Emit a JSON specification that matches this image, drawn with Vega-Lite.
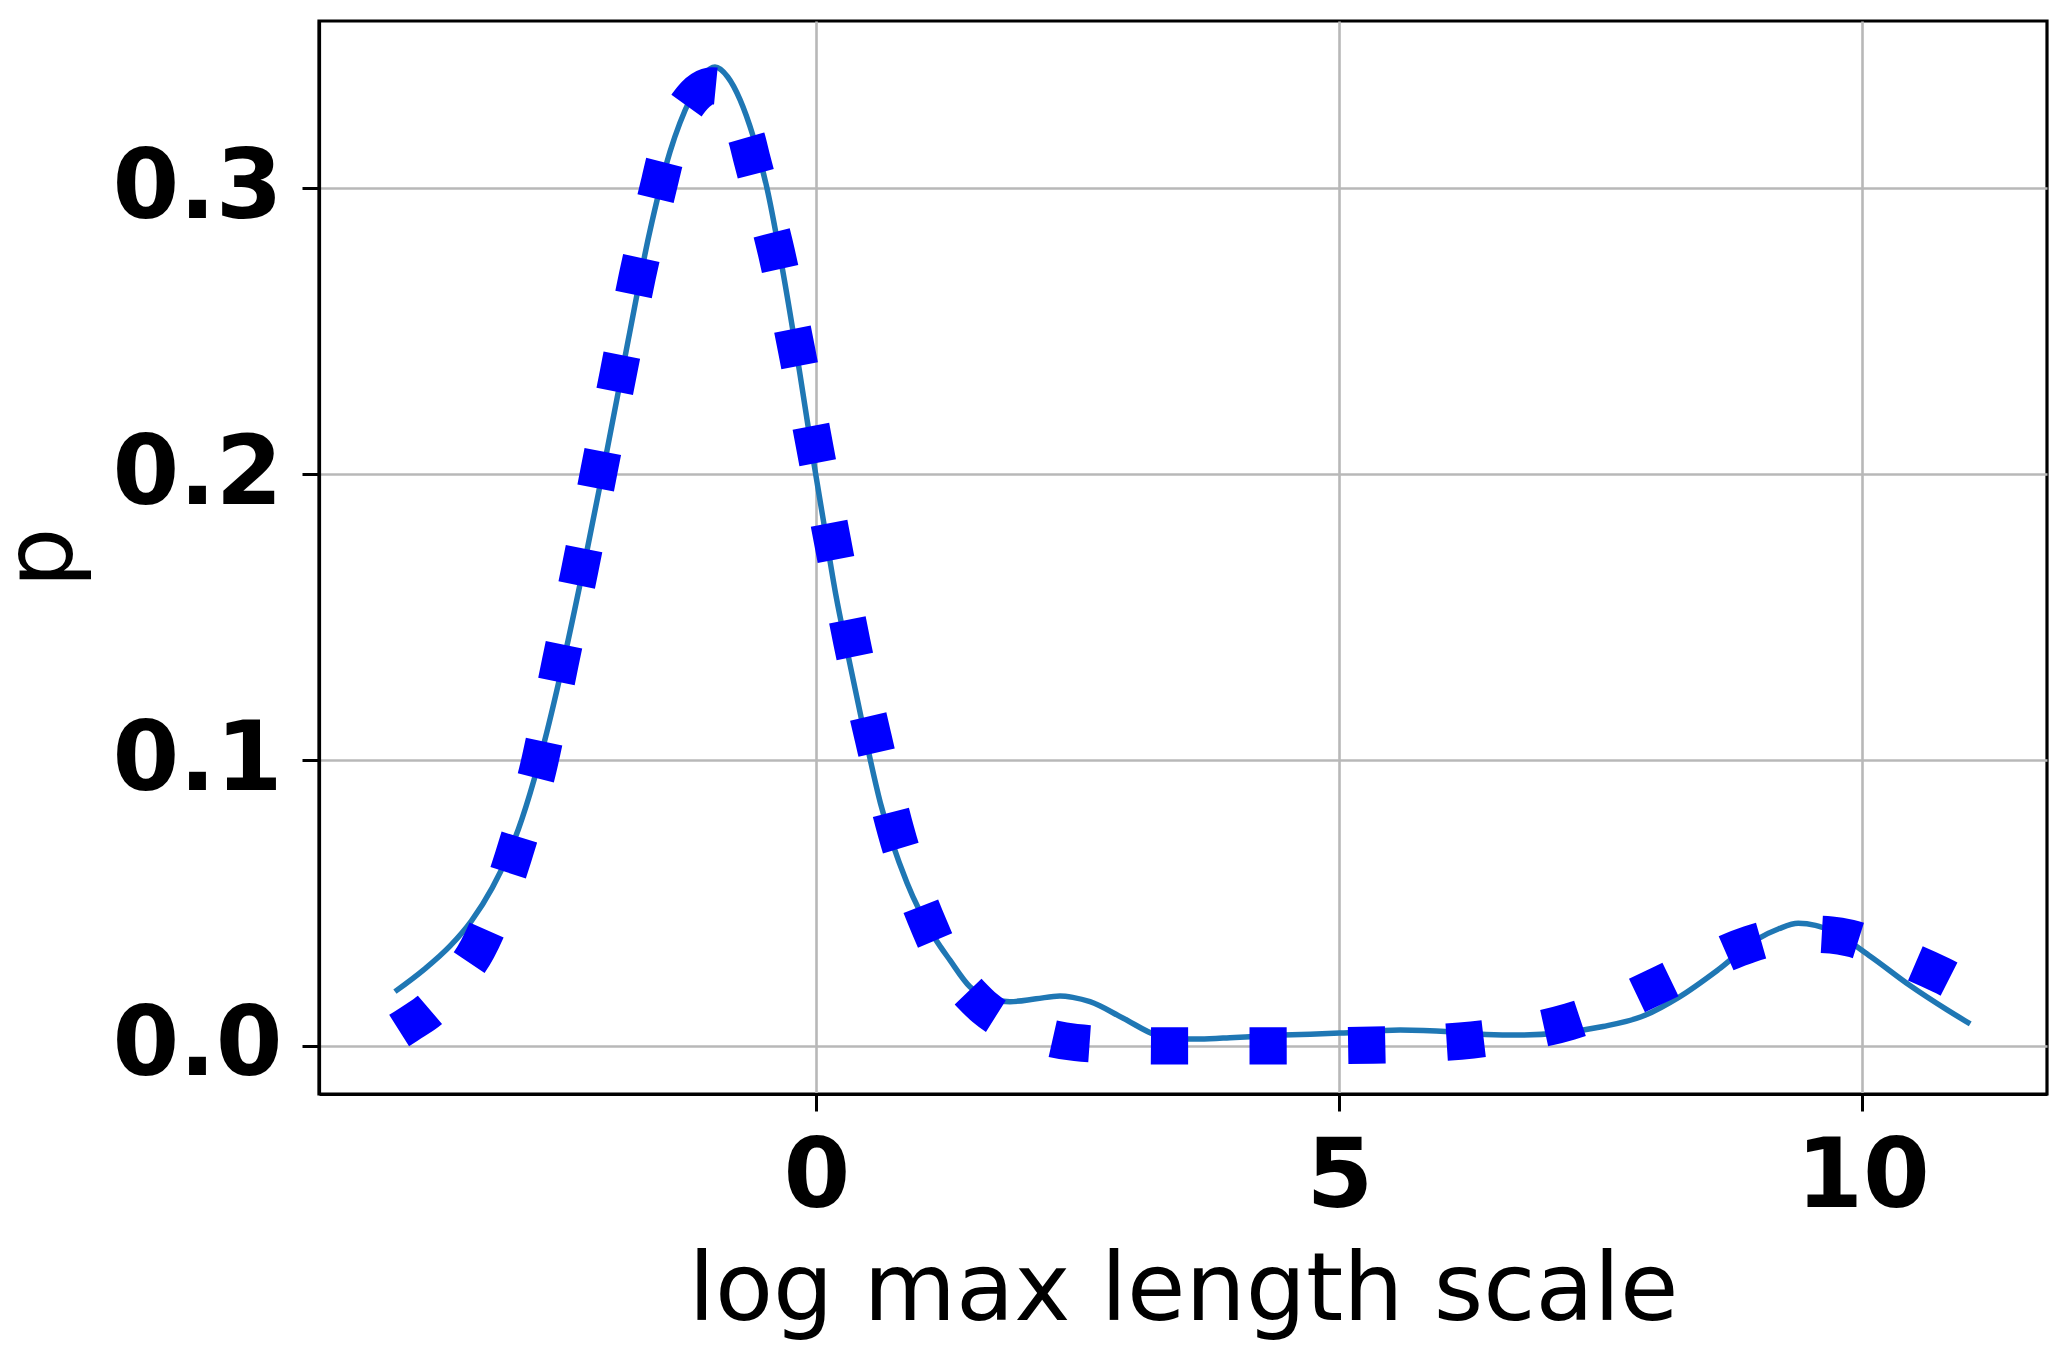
{
  "$schema": "https://vega.github.io/schema/vega-lite/v6.json",
  "width": 1728,
  "height": 1073,
  "autosize": "none",
  "padding": {"left": 319, "top": 21, "right": 20, "bottom": 263},
  "background": "white",
  "config": {
    "view": {"stroke": "black", "strokeWidth": 3.2},
    "axis": {
      "domainColor": "black", "domainWidth": 3.2,
      "tickColor": "black", "tickWidth": 3, "tickSize": 17,
      "gridColor": "#b8b8b8", "gridWidth": 2.6,
      "labelFont": "DejaVu Sans", "labelFontWeight": "bold", "labelFontSize": 96, "labelColor": "black",
      "titleFont": "DejaVu Sans", "titleFontWeight": "normal", "titleFontSize": 95, "titleColor": "black"
    }
  },
  "datasets": {
    "kde": [
      {"x": -4.03, "p": 0.019}, {"x": -3.75, "p": 0.0268}, {"x": -3.5, "p": 0.0351}, {"x": -3.3, "p": 0.0437},
      {"x": -3.1, "p": 0.0553}, {"x": -2.95, "p": 0.0666}, {"x": -2.85, "p": 0.0758}, {"x": -2.7, "p": 0.0931},
      {"x": -2.6, "p": 0.1066}, {"x": -2.4, "p": 0.1376}, {"x": -2.2, "p": 0.1722}, {"x": -2.0, "p": 0.2088},
      {"x": -1.8, "p": 0.2468}, {"x": -1.6, "p": 0.2838}, {"x": -1.4, "p": 0.3128}, {"x": -1.2, "p": 0.3318},
      {"x": -1.08, "p": 0.3395}, {"x": -0.97, "p": 0.3424}, {"x": -0.85, "p": 0.339}, {"x": -0.731, "p": 0.331},
      {"x": -0.604, "p": 0.318}, {"x": -0.476, "p": 0.3005}, {"x": -0.317, "p": 0.27}, {"x": -0.158, "p": 0.235},
      {"x": -0.03, "p": 0.205}, {"x": 0.065, "p": 0.184}, {"x": 0.184, "p": 0.158}, {"x": 0.3, "p": 0.137},
      {"x": 0.432, "p": 0.114}, {"x": 0.611, "p": 0.085}, {"x": 0.866, "p": 0.057}, {"x": 1.122, "p": 0.0383},
      {"x": 1.276, "p": 0.03}, {"x": 1.467, "p": 0.0207}, {"x": 1.65, "p": 0.0165}, {"x": 1.85, "p": 0.0155},
      {"x": 2.1, "p": 0.0165}, {"x": 2.328, "p": 0.0175}, {"x": 2.45, "p": 0.017}, {"x": 2.615, "p": 0.0155},
      {"x": 2.933, "p": 0.0097}, {"x": 3.25, "p": 0.0038}, {"x": 3.45, "p": 0.0026}, {"x": 3.666, "p": 0.0024},
      {"x": 4.0, "p": 0.003}, {"x": 4.46, "p": 0.0038}, {"x": 5.0, "p": 0.0045}, {"x": 5.58, "p": 0.0056},
      {"x": 6.056, "p": 0.005}, {"x": 6.4, "p": 0.004}, {"x": 6.715, "p": 0.0038}, {"x": 7.1, "p": 0.0045},
      {"x": 7.52, "p": 0.0068}, {"x": 7.885, "p": 0.0102}, {"x": 8.251, "p": 0.0172}, {"x": 8.618, "p": 0.0266},
      {"x": 8.982, "p": 0.0371}, {"x": 9.2, "p": 0.041}, {"x": 9.386, "p": 0.0429}, {"x": 9.55, "p": 0.0422},
      {"x": 9.715, "p": 0.04}, {"x": 10.08, "p": 0.0312}, {"x": 10.447, "p": 0.0213}, {"x": 10.81, "p": 0.0126},
      {"x": 11.03, "p": 0.0077}
    ],
    "fit": [
      {"x": -3.99, "p": 0.0054}, {"x": -3.85, "p": 0.0087}, {"x": -3.7, "p": 0.0125}, {"x": -3.55, "p": 0.018},
      {"x": -3.4, "p": 0.025}, {"x": -3.24, "p": 0.034}, {"x": -3.07, "p": 0.048}, {"x": -2.9, "p": 0.066},
      {"x": -2.77, "p": 0.082}, {"x": -2.65, "p": 0.0988}, {"x": -2.55, "p": 0.116}, {"x": -2.45, "p": 0.134},
      {"x": -2.26, "p": 0.167}, {"x": -2.08, "p": 0.201}, {"x": -1.895, "p": 0.2352}, {"x": -1.713, "p": 0.2692},
      {"x": -1.496, "p": 0.3028}, {"x": -1.455, "p": 0.3091}, {"x": -1.35, "p": 0.322}, {"x": -1.233, "p": 0.3294},
      {"x": -1.1, "p": 0.3345}, {"x": -1.0, "p": 0.3358}, {"x": -0.954, "p": 0.3357}, {"x": -0.8, "p": 0.3285},
      {"x": -0.664, "p": 0.317}, {"x": -0.62, "p": 0.3106}, {"x": -0.381, "p": 0.2772}, {"x": -0.19, "p": 0.2434},
      {"x": -0.014, "p": 0.209}, {"x": 0.16, "p": 0.1752}, {"x": 0.337, "p": 0.1414}, {"x": 0.543, "p": 0.1076},
      {"x": 0.76, "p": 0.075}, {"x": 1.08, "p": 0.0415}, {"x": 1.3, "p": 0.025}, {"x": 1.45, "p": 0.019},
      {"x": 1.611, "p": 0.0132}, {"x": 2.0, "p": 0.0055}, {"x": 2.48, "p": 0.0012}, {"x": 3.0, "p": 0.0002},
      {"x": 3.434, "p": 0.0}, {"x": 4.377, "p": 0.0}, {"x": 5.32, "p": 0.0003}, {"x": 5.8, "p": 0.0009},
      {"x": 6.27, "p": 0.0021}, {"x": 6.75, "p": 0.0047}, {"x": 7.2, "p": 0.0085}, {"x": 7.65, "p": 0.0145},
      {"x": 8.07, "p": 0.0216}, {"x": 8.5, "p": 0.0292}, {"x": 8.92, "p": 0.0356}, {"x": 9.2, "p": 0.0383},
      {"x": 9.45, "p": 0.0392}, {"x": 9.7, "p": 0.0388}, {"x": 9.88, "p": 0.0377}, {"x": 10.3, "p": 0.032},
      {"x": 10.75, "p": 0.0248}, {"x": 11.03, "p": 0.0195}
    ]
  },
  "encoding": {
    "x": {
      "field": "x", "type": "quantitative",
      "scale": {"domain": [-4.756, 11.764], "nice": false, "zero": false},
      "axis": {"title": "log max length scale", "values": [0, 5, 10], "format": "d", "labelPadding": 19,
               "titleBaseline": "alphabetic", "titleY": 225}
    },
    "y": {
      "field": "p", "type": "quantitative",
      "scale": {"domain": [-0.0168, 0.3585], "nice": false, "zero": false},
      "axis": {"title": "p", "values": [0, 0.1, 0.2, 0.3], "format": ".1f", "labelPadding": 20,
               "titleBaseline": "alphabetic", "titleAngle": 270, "titleX": -249, "titleY": 536}
    }
  },
  "layer": [
    {
      "data": {"name": "kde"},
      "mark": {"type": "line", "color": "#1f77b4", "strokeWidth": 5.5, "interpolate": "monotone"}
    },
    {
      "data": {"name": "fit"},
      "mark": {"type": "line", "color": "#0000ff", "strokeWidth": 37.2, "strokeDash": [37.2, 61.4], "strokeCap": "butt", "interpolate": "monotone"}
    }
  ]
}
